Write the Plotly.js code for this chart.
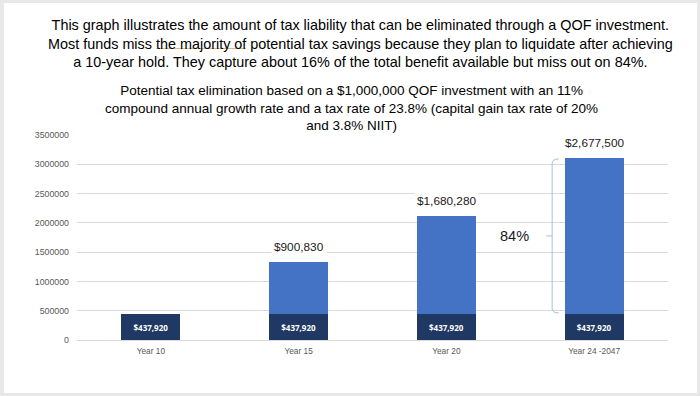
<!DOCTYPE html>
<html>
<head>
<meta charset="utf-8">
<script src="https://cdn.plot.ly/plotly-3.0.1.min.js"></script>
<style>
  html, body { margin: 0; padding: 0; }
  #frame { position: relative; width: 700px; height: 396px; background: #e8e8e8; overflow: hidden; }
  #chart { position: absolute; left: 4px; top: 3px; width: 693px; height: 390px; background: #ffffff; }
</style>
</head>
<body>
<div id="frame"><div id="chart"></div></div>
<script>
// ---- data ----
const categories = ["Year 10", "Year 15", "Year 20", "Year 24 -2047"];
const baseValues = [437920, 437920, 437920, 437920];
const growthValues = [0, 900830, 1680280, 2677500];
const yTickValues = [0, 500000, 1000000, 1500000, 2000000, 2500000, 3000000, 3500000];
const mainTitleLines = [
  "This graph illustrates the amount of tax liability that can be eliminated through a QOF investment.",
  "Most funds miss the majority of potential tax savings because they plan to liquidate after achieving",
  "a 10-year hold. They capture about 16% of the total benefit available but miss out on 84%."
];
const subTitleLines = [
  "Potential tax elimination based on a $1,000,000 QOF investment with an 11%",
  "compound annual growth rate and a tax rate of 23.8% (capital gain tax rate of 20%",
  "and 3.8% NIIT)"
];
const braceLabel = "84%";

const fmt = v => "$" + v.toLocaleString("en-US");

const traces = [
  {
    type: "bar", x: categories, y: baseValues, name: "Base",
    marker: { color: "#203864" },
    text: baseValues.map(fmt), textposition: "inside", insidetextanchor: "middle",
    textfont: { color: "#ffffff", family: "Open Sans", size: 8, weight: "bold" },
    hoverinfo: "skip"
  },
  {
    type: "bar", x: categories, y: growthValues, name: "Growth",
    marker: { color: "#4472C4" },
    textposition: "none",
    hoverinfo: "skip"
  }
];

const annotations = [];
categories.forEach((c, i) => {
  if (growthValues[i] > 0) {
    annotations.push({
      x: c, y: baseValues[i] + growthValues[i], xref: "x", yref: "y",
      text: fmt(growthValues[i]), showarrow: false, yanchor: "bottom", yshift: 5,
      bgcolor: "#ffffff", borderpad: 2,
      font: { family: "Liberation Sans", size: 11.8, color: "#1a1a1a" }
    });
  }
});
annotations.push({
  xref: "paper", yref: "paper", x: 0.479, y: 1.585, xanchor: "center", yanchor: "top",
  text: mainTitleLines.join("<br>"), showarrow: false, align: "center",
  font: { family: "Liberation Sans", size: 14.4, color: "#000000" }
});
annotations.push({
  xref: "paper", yref: "paper", x: 0.464, y: 1.262, xanchor: "center", yanchor: "top",
  text: subTitleLines.join("<br>"), showarrow: false, align: "center",
  font: { family: "Liberation Sans", size: 13.5, color: "#000000" }
});

// brace beside the last bar
const last = categories.length - 1;
const yB = baseValues[last] + 25000;
const yT = baseValues[last] + growthValues[last] - 25000;
const yM = (yB + yT) / 2;
const xv = 0.804, xh = 0.815, xm = 0.794, d = 70000;
annotations.push({
  xref: "paper", yref: "y", x: 0.741, y: yM, text: braceLabel, showarrow: false,
  xanchor: "center", yanchor: "middle",
  font: { family: "Liberation Sans", size: 14.5, color: "#1a1a1a" }
});

const shapes = [
  {
    type: "path", xref: "paper", yref: "y",
    path: `M ${xh} ${yT} Q ${xv} ${yT} ${xv} ${yT - d} L ${xv} ${yB + d} Q ${xv} ${yB} ${xh} ${yB} M ${xv} ${yM} L ${xm} ${yM}`,
    line: { color: "#a9bfe3", width: 1 }
  },
  {
    // faint proofing underline under "the majority of" in the heading
    type: "line", xref: "paper", yref: "paper",
    x0: 0.1335, x1: 0.2855, y0: 1.422, y1: 1.422,
    line: { color: "#d8b98a", width: 1 }
  }
];

const layout = {
  width: 693, height: 390,
  margin: { l: 72.5, r: 29, t: 132, b: 53 },
  paper_bgcolor: "#ffffff", plot_bgcolor: "#ffffff",
  barmode: "stack", bargap: 0.6,
  showlegend: false,
  font: { family: "Liberation Sans" },
  xaxis: {
    type: "category", showgrid: false, zeroline: false, showline: false, ticks: "",
    ticklabelstandoff: 5,
    tickfont: { family: "Liberation Sans", size: 8.3, color: "#595959" }
  },
  yaxis: {
    range: [0, 3500000], tickvals: yTickValues, ticktext: yTickValues.map(String),
    showgrid: true, gridcolor: "#d9d9d9", gridwidth: 1,
    zeroline: true, zerolinecolor: "#d9d9d9", zerolinewidth: 1,
    showline: false, ticks: "", ticklabelstandoff: 7,
    tickfont: { family: "Liberation Sans", size: 8.8, color: "#595959" }
  },
  annotations: annotations,
  shapes: shapes
};

Plotly.newPlot("chart", traces, layout, { displayModeBar: false, staticPlot: true });
</script>
</body>
</html>
